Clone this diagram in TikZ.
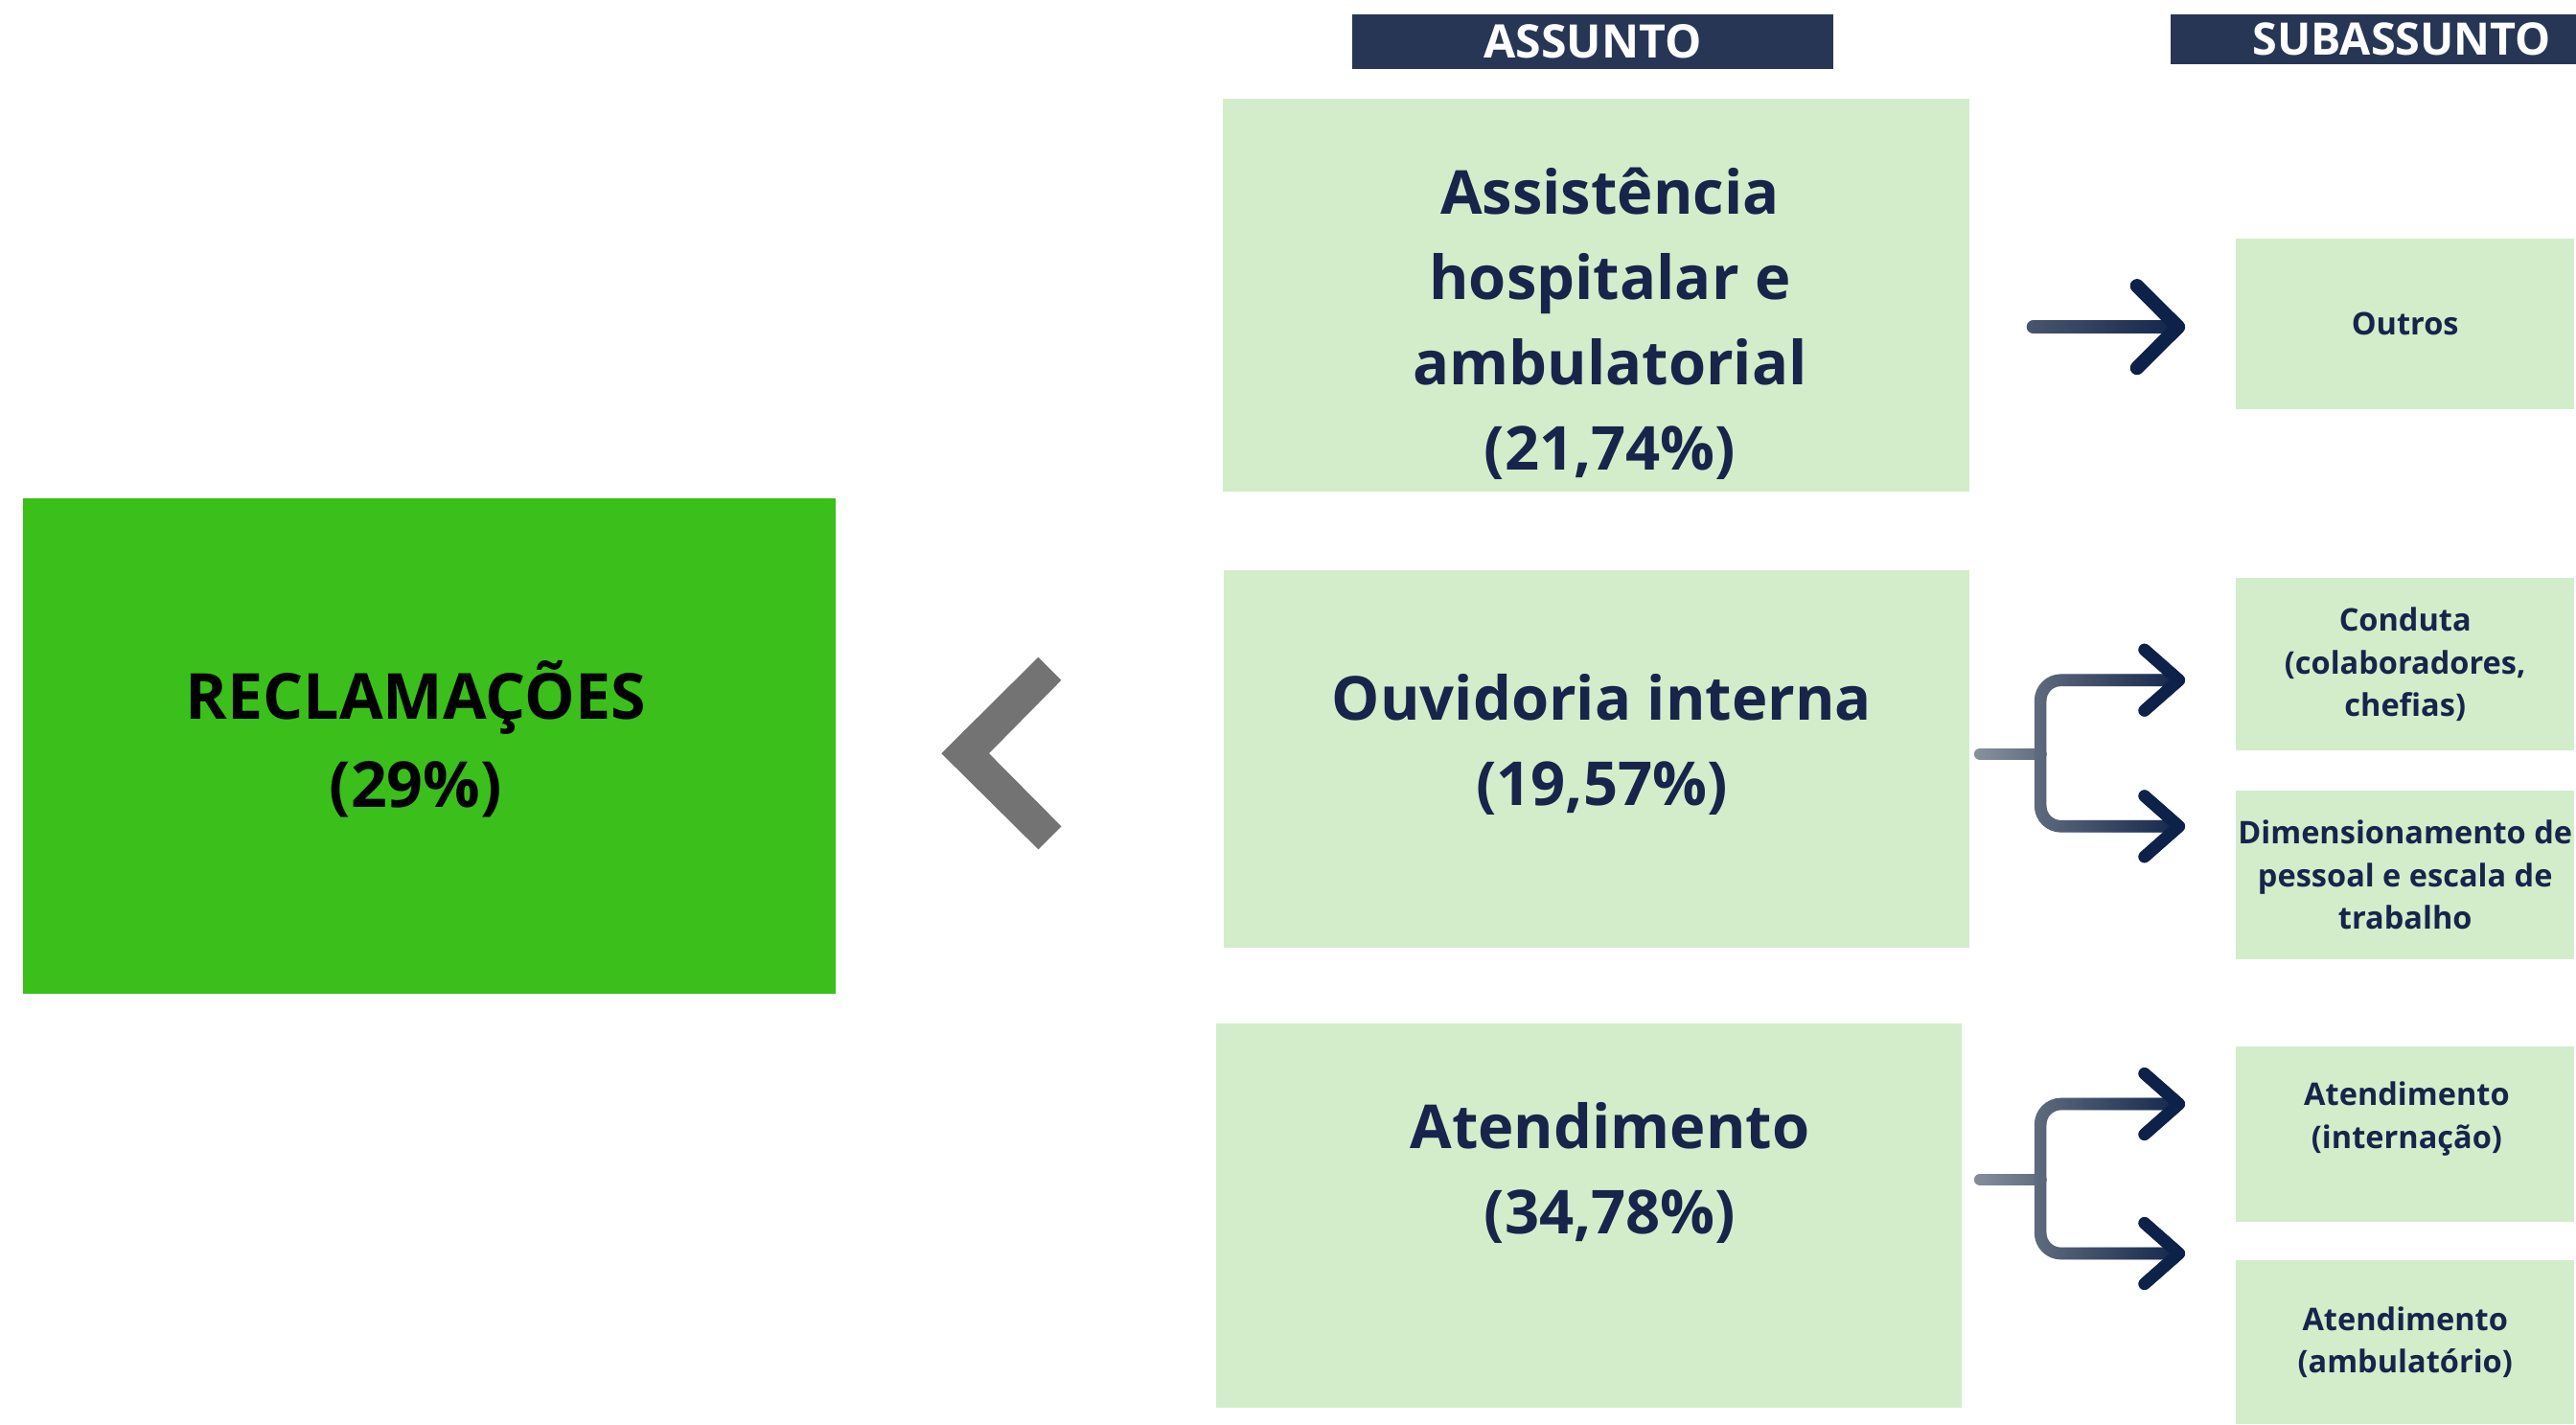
\documentclass[tikz,border=0pt]{standalone}
\usepackage{fontspec}
\setmainfont{Open Sans}
\usetikzlibrary{arrows.meta,fadings}
\definecolor{headblue}{HTML}{283655}
\definecolor{boxgreen}{HTML}{3ABF1B}
\definecolor{palegreen}{HTML}{D3EDCB}
\definecolor{inknavy}{HTML}{18244A}
\definecolor{stemgray}{HTML}{8E97A3}
\definecolor{linkgray}{HTML}{5F6B7E}
\definecolor{linknavy}{HTML}{0E2148}
\definecolor{chevgray}{HTML}{737373}
\tikzfading[name=toright, left color=transparent!100, right color=transparent!0]
\tikzset{
  header/.style={fill=headblue, text=white, inner sep=0pt, font=\bfseries\fontsize{16}{19}\selectfont},
  subject/.style={fill=palegreen, inner sep=0pt, minimum width=9.08cm},
  subjecttxt/.style={text=inknavy, align=center, font=\bfseries\fontsize{21}{29.5}\selectfont},
  subsub/.style={fill=palegreen, inner sep=0pt, minimum width=4.12cm},
  subsubtxt/.style={text=inknavy, align=center, font=\bfseries\fontsize{10.8}{14.7}\selectfont},
  link/.style={line width=4.2pt, line cap=round, rounded corners=0.25cm},
  tip/.style={-{Straight Barb[length=0.42cm,width=0.74cm,round,color=linknavy]}},
  bigtip/.style={-{Straight Barb[length=0.5cm,width=1cm,round,color=linknavy]}},
}
\begin{document}
\begin{tikzpicture}[x=0.02cm,y=-0.02cm]
	\useasboundingbox (0,0) rectangle (1568,867);
	% headers
	\node[header, minimum width=5.86cm, minimum height=0.66cm] (hassunto) at (969.5,25.5) {ASSUNTO};
	\node[header, minimum width=5.64cm, minimum height=0.6cm, font=\bfseries\fontsize{15.5}{18}\selectfont] (hsub) at (1462,24) {SUBASSUNTO};
	% main box
	\node[fill=boxgreen, minimum width=9.9cm, minimum height=6.04cm] (recl) at (261.5,454) {};
	\node[align=center, font=\bfseries\fontsize{22}{30.6}\selectfont] (recltxt) at (253,450) {RECLAMAÇÕES\\(29\%)};
	\fill[chevgray] (632,400) -- (573,458.6) -- (632,517) -- (646,503) -- (602,458.6) -- (646,414) -- cycle;
	% subjects
	\node[subject, minimum height=4.78cm] (ass) at (971.5,179.5) {};
	\node[subjecttxt] (asstxt) at (980,197) {Assistência\\hospitalar e\\ambulatorial\\(21,74\%)};
	\node[subject, minimum height=4.6cm] (ouv) at (972,462) {};
	\node[subjecttxt] (ouvtxt) at (975,453) {Ouvidoria interna\\(19,57\%)};
	\node[subject, minimum height=4.68cm] (ate) at (967,740) {};
	\node[subjecttxt] (atetxt) at (980,714) {Atendimento\\(34,78\%)};
	% subsubjects
	\node[subsub, subsubtxt, minimum height=2.08cm] (outros) at (1464,197) {Outros};
	\node[subsub, subsubtxt, minimum height=2.1cm] (conduta) at (1464,404.5) {Conduta\\(colaboradores,\\chefias)};
	\node[subsub, subsubtxt, minimum height=2.06cm] (dimens) at (1464,532.5) {Dimensionamento de\\pessoal e escala de\\trabalho};
	\node[subsub, minimum height=2.14cm] (intern) at (1464,690.5) {};
	\node[subsubtxt] (interntxt) at (1465,681) {Atendimento\\(internação)};
	\node[subsub, subsubtxt, minimum height=2cm] (ambul) at (1464,817) {Atendimento\\(ambulatório)};
	% connectors
	\coordinate (outend) at (1330,199);
	\coordinate (ouvjoin) at (1242,459);
	\coordinate (conend) at (1330,414);
	\coordinate (dimend) at (1330,503);
	\coordinate (atejoin) at (1242,718);
	\coordinate (intend) at (1330,672);
	\coordinate (ambend) at (1330,763);
	\draw[link, line width=4.8pt, bigtip, linkgray, shorten <=0.78cm] (ass.east |- outend) -- (outend);
	\draw[link, line width=4.8pt, bigtip, linknavy, shorten <=0.78cm, path fading=toright] (ass.east |- outend) -- (outend);
	\draw[link, stemgray, shorten <=0.12cm] (ouv.east |- ouvjoin) -- (ouvjoin);
	\draw[link, linkgray, shorten <=0.12cm, path fading=toright] (ouv.east |- ouvjoin) -- (ouvjoin);
	\draw[link, tip, linkgray] (ouvjoin) |- (conend);
	\draw[link, tip, linknavy, path fading=toright] (ouvjoin) |- (conend);
	\draw[link, tip, linkgray] (ouvjoin) |- (dimend);
	\draw[link, tip, linknavy, path fading=toright] (ouvjoin) |- (dimend);
	\draw[link, stemgray, shorten <=0.22cm] (ate.east |- atejoin) -- (atejoin);
	\draw[link, linkgray, shorten <=0.22cm, path fading=toright] (ate.east |- atejoin) -- (atejoin);
	\draw[link, tip, linkgray] (atejoin) |- (intend);
	\draw[link, tip, linknavy, path fading=toright] (atejoin) |- (intend);
	\draw[link, tip, linkgray] (atejoin) |- (ambend);
	\draw[link, tip, linknavy, path fading=toright] (atejoin) |- (ambend);
\end{tikzpicture}
\end{document}
